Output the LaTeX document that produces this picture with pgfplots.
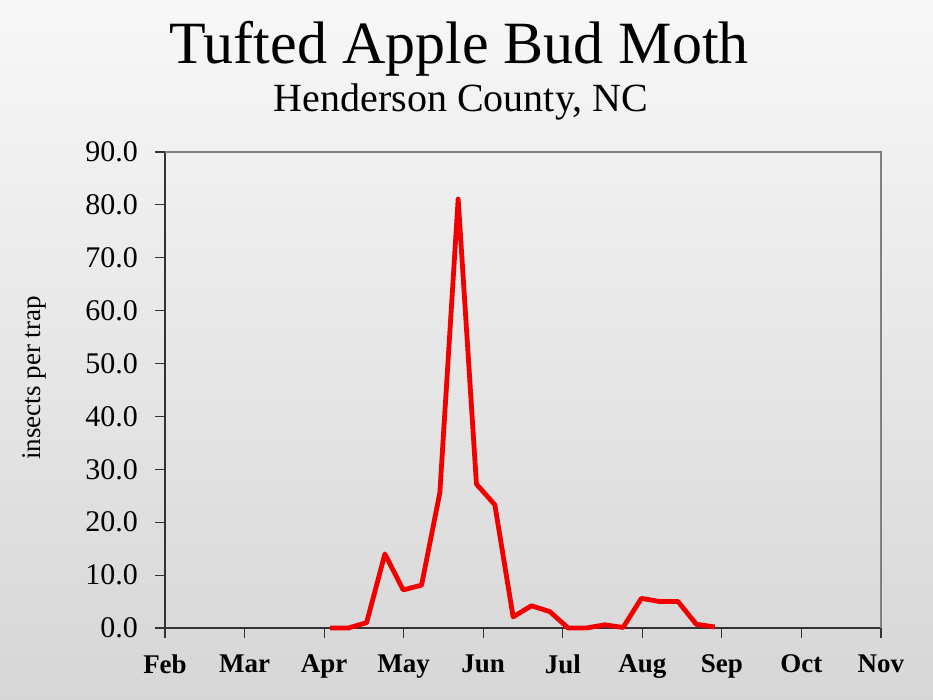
\documentclass[border=0pt]{standalone}
\usepackage{fontspec}
\setmainfont{Liberation Serif}
\usepackage{pgfplots}
\pgfplotsset{compat=1.18}

% weekly trap counts, x in months after 1 Feb
\pgfplotstableread{
x      y
2.073  0.0
2.303  0.0
2.534  1.0
2.764  14.0
2.994  7.2
3.225  8.1
3.455  25.6
3.685  81.1
3.915  27.2
4.146  23.3
4.376  2.1
4.606  4.2
4.837  3.1
5.067  0.0
5.297  0.0
5.528  0.6
5.758  0.1
5.988  5.6
6.219  5.0
6.449  5.0
6.679  0.7
6.910  0.2
}\moth

\begin{document}
\begin{tikzpicture}
    \fill[top color=black!3, bottom color=black!16] (0,0) rectangle (466.5pt,350pt);
    \node[anchor=base, font=\fontsize{30}{34}\selectfont] at (229.5pt,318pt) {Tufted Apple Bud Moth};
    \node[anchor=base, font=\fontsize{20}{23}\selectfont] at (230.5pt,294pt) {Henderson County, NC};
    \node[rotate=90, font=\fontsize{13.5}{15}\selectfont] at (17pt,161pt) {insects per trap};
    \begin{axis}[
        at={(82.5pt,36pt)}, anchor=south west,
        scale only axis,
        width=358pt, height=238pt,
        xmin=0, xmax=9, ymin=0, ymax=90,
        axis lines=left,
        axis line style={-, black!80, line width=0.6pt},
        tick align=outside,
        major tick length=5pt,
        tick style={black!80, line width=0.6pt},
        xtick={0,...,9},
        xticklabels={Feb,Mar,Apr,May,Jun,Jul,Aug,Sep,Oct,Nov},
        xticklabel style={font=\fontsize{13.5}{15}\selectfont\bfseries, yshift=-5pt},
        ytick={0,10,...,90},
        yticklabel style={font=\fontsize{15}{17}\selectfont, xshift=-5pt,
            /pgf/number format/.cd, fixed, fixed zerofill, precision=1,
            assume math mode=true},
        clip=false,
    ]
        \draw[black!50, line width=0.6pt] (rel axis cs:0,1) -- (rel axis cs:1,1) -- (rel axis cs:1,0);
        \addplot[red!95!black, line width=2.4pt, mark=none, line join=round] table {\moth};
    \end{axis}
\end{tikzpicture}
\end{document}
